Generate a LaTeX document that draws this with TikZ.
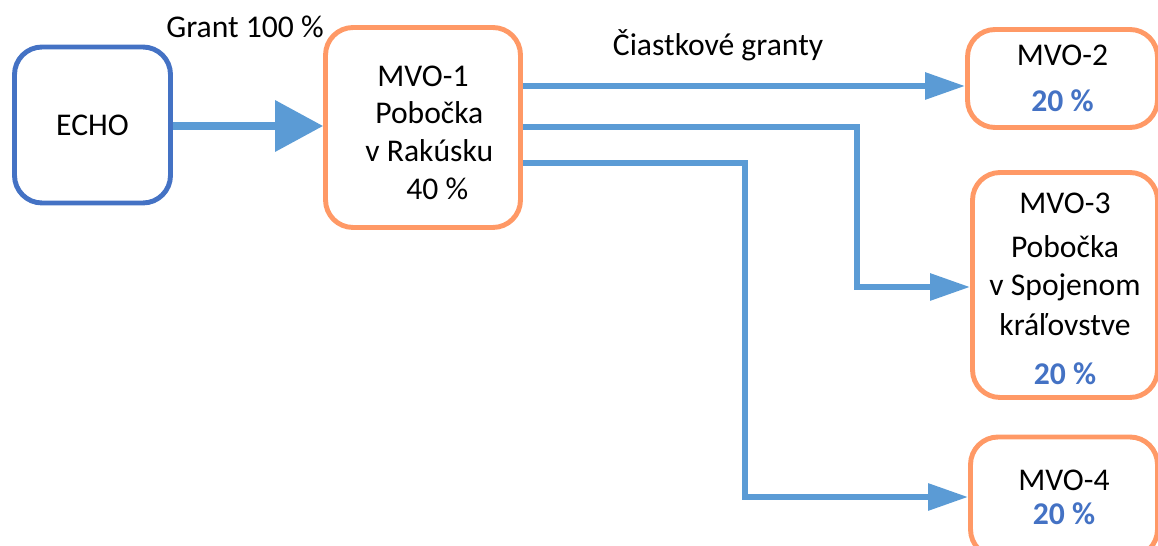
\documentclass[tikz,border=0pt]{standalone}
\usepackage{fontspec}
\setmainfont{Carlito}
\usetikzlibrary{arrows.meta,positioning}

\definecolor{echoblue}{RGB}{68,114,196}
\definecolor{linkblue}{RGB}{91,155,213}
\definecolor{mvoorange}{RGB}{255,153,102}

\begin{document}
\begin{tikzpicture}[x=0.02cm, y=-0.02cm, font=\fontsize{18}{21.5}\selectfont,
  box/.style = {draw, rounded corners=0.55cm, line width=2.8pt, align=center, inner sep=0pt},
  mvo/.style = {box, draw=mvoorange},
  link/.style = {draw=linkblue, line width=3.4pt, -{Triangle[length=0.8cm, width=0.52cm]}}]
  \useasboundingbox (0,0) rectangle (1158,546);

  % Nodes
  \node[box, draw=echoblue, minimum width=3.12cm, minimum height=3.12cm] (echo) at (92.5,125) {ECHO};
  \node[mvo, minimum width=3.9cm, minimum height=4.0cm] (mvo1) at (423,127.5)
    {\rule{0pt}{17.5pt}MVO-1\\\hspace*{0.4em}Pobočka\\\hspace*{0.4em}v Rakúsku\\\hspace*{0.9em}40 \%};
  \node[mvo, minimum width=3.8cm, minimum height=1.96cm] (mvo2) at (1062.5,78.5)
    {MVO-2\\[5pt]\textcolor{echoblue}{\bfseries 20 \%}};
  \node[mvo, minimum width=3.7cm, minimum height=4.5cm] (mvo3) at (1065,285)
    {\rule{0pt}{16pt}MVO-3\\[3.5pt]Pobočka\\[0pt]v Spojenom\\[1.5pt]kráľovstve\\[6pt]\textcolor{echoblue}{\bfseries 20 \%}};
  \node[mvo, minimum width=3.74cm, minimum height=2.4cm] (mvo4) at (1064,497)
    {MVO-4\\[-2pt]\textcolor{echoblue}{\bfseries 20 \%}};

  \node (grant) at (245,27) {Grant 100 \%};
  \node (partial) at (718,45) {Čiastkové granty};

  \coordinate (turn3) at (857,287);
  \coordinate (turn4) at (745,497);

  % Paths
  \draw[draw=linkblue, line width=4pt, -{Triangle[length=0.96cm, width=1.0cm]}] (echo.east |- 0,126) -- (mvo1.west |- 0,126);
  \draw[link] (mvo1.east |- 0,86) -- (mvo2.west |- 0,86);
  \draw[link] (mvo1.east |- 0,127) -| (turn3) -- (mvo3.west |- turn3);
  \draw[link] (mvo1.east |- 0,163) -| (turn4) -- (mvo4.west |- turn4);
\end{tikzpicture}
\end{document}
